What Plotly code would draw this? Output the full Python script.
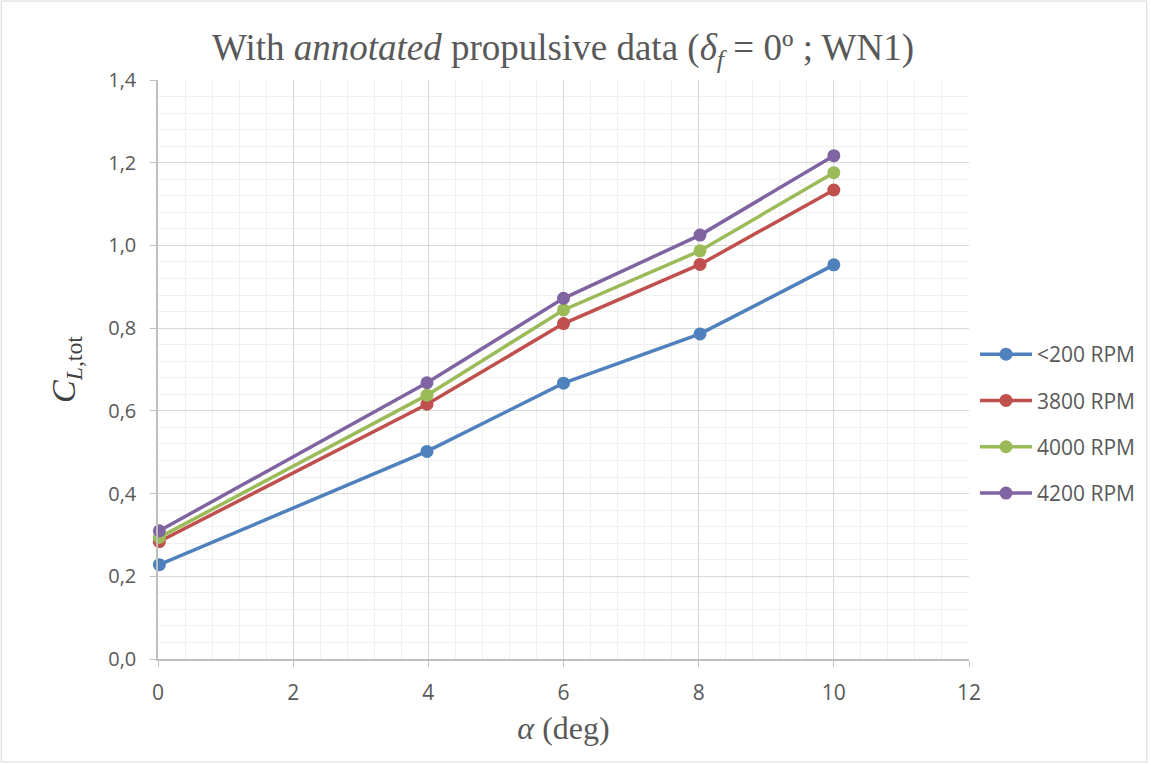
import plotly.graph_objects as go

alpha = [0.02, 3.98, 6.0, 8.02, 10.0]
series_names = ["<200 RPM", "3800 RPM", "4000 RPM", "4200 RPM"]
cl_200 = [0.228, 0.502, 0.667, 0.786, 0.953]
cl_3800 = [0.284, 0.616, 0.811, 0.954, 1.134]
cl_4000 = [0.294, 0.638, 0.844, 0.987, 1.176]
cl_4200 = [0.310, 0.668, 0.872, 1.025, 1.217]
colors = ["#4f81bd", "#c0504d", "#9bbb59", "#8064a2"]

fig = go.Figure()
for i, (name, ys) in enumerate(zip(series_names, [cl_200, cl_3800, cl_4000, cl_4200])):
    fig.add_trace(go.Scatter(
        x=alpha, y=ys, name=name, mode="lines+markers",
        line=dict(color=colors[i], width=3.5),
        marker=dict(color=colors[i], size=13),
        cliponaxis=False, legendgroup=f"g{i}",
    ))

W, H = 1151, 765
L, R, T, B = 158, 970, 80, 659
pw, ph = R - L, B - T

yfont = dict(family="Open Sans, Liberation Sans", size=20, color="#595959")
xfont = dict(family="Liberation Sans Narrow, Open Sans", size=21, color="#595959")
serif = "Liberation Serif, Times New Roman"
fig.update_layout(
    width=W, height=H,
    margin=dict(l=L, r=W - R, t=T, b=H - B),
    paper_bgcolor="white", plot_bgcolor="white",
    separators=", ",
    title=dict(
        text="With <i>annotated</i> propulsive data (<i>δ</i><sub><i>f</i></sub> = 0º ; WN1)",
        x=563 / W, xanchor="center", y=1 - 47 / H, yanchor="middle",
        font=dict(family=serif, size=37, color="#595959"),
    ),
    xaxis=dict(
        range=[0, 12], dtick=2, tick0=0, tickformat="d",
        showgrid=True, gridcolor="#d9d9d9", gridwidth=1,
        minor=dict(dtick=0.4, showgrid=True, gridcolor="#f0f0f0", gridwidth=1),
        showline=True, linecolor="#bfbfbf", linewidth=1.5,
        ticks="outside", ticklen=6, tickcolor="#bfbfbf",
        ticklabelstandoff=8,
        zeroline=False, tickfont=xfont,
        title=dict(text="<i>α</i> (deg)", standoff=12,
                   font=dict(family=serif, size=32, color="#595959")),
    ),
    yaxis=dict(
        range=[0, 1.4], dtick=0.2, tick0=0, tickformat=".1f",
        showgrid=True, gridcolor="#d9d9d9", gridwidth=1,
        minor=dict(dtick=0.04, showgrid=True, gridcolor="#f0f0f0", gridwidth=1),
        showline=True, linecolor="#bfbfbf", linewidth=1.5,
        ticks="outside", ticklen=6, tickcolor="#bfbfbf",
        ticklabelstandoff=10,
        zeroline=False, tickfont=yfont,
        title=dict(text="<i>C</i><sub><i>L</i>,tot</sub>", standoff=22,
                   font=dict(family=serif, size=34, color="#404040")),
    ),
    legend=dict(
        x=(975 - L) / pw, xanchor="left", y=(B - 424) / ph, yanchor="middle",
        font=dict(family="Open Sans, Liberation Sans", size=21, color="#595959"),
        tracegroupgap=16, traceorder="grouped", bgcolor="rgba(0,0,0,0)",
        itemwidth=52,
    ),
    shapes=[dict(type="rect", xref="paper", yref="paper",
                 x0=(1 - L) / pw, x1=(W - 3 - L) / pw,
                 y0=(B - (H - 3)) / ph, y1=(B - 1) / ph,
                 line=dict(color="#d9d9d9", width=1), layer="below")],
)

fig.write_html("out.html")
